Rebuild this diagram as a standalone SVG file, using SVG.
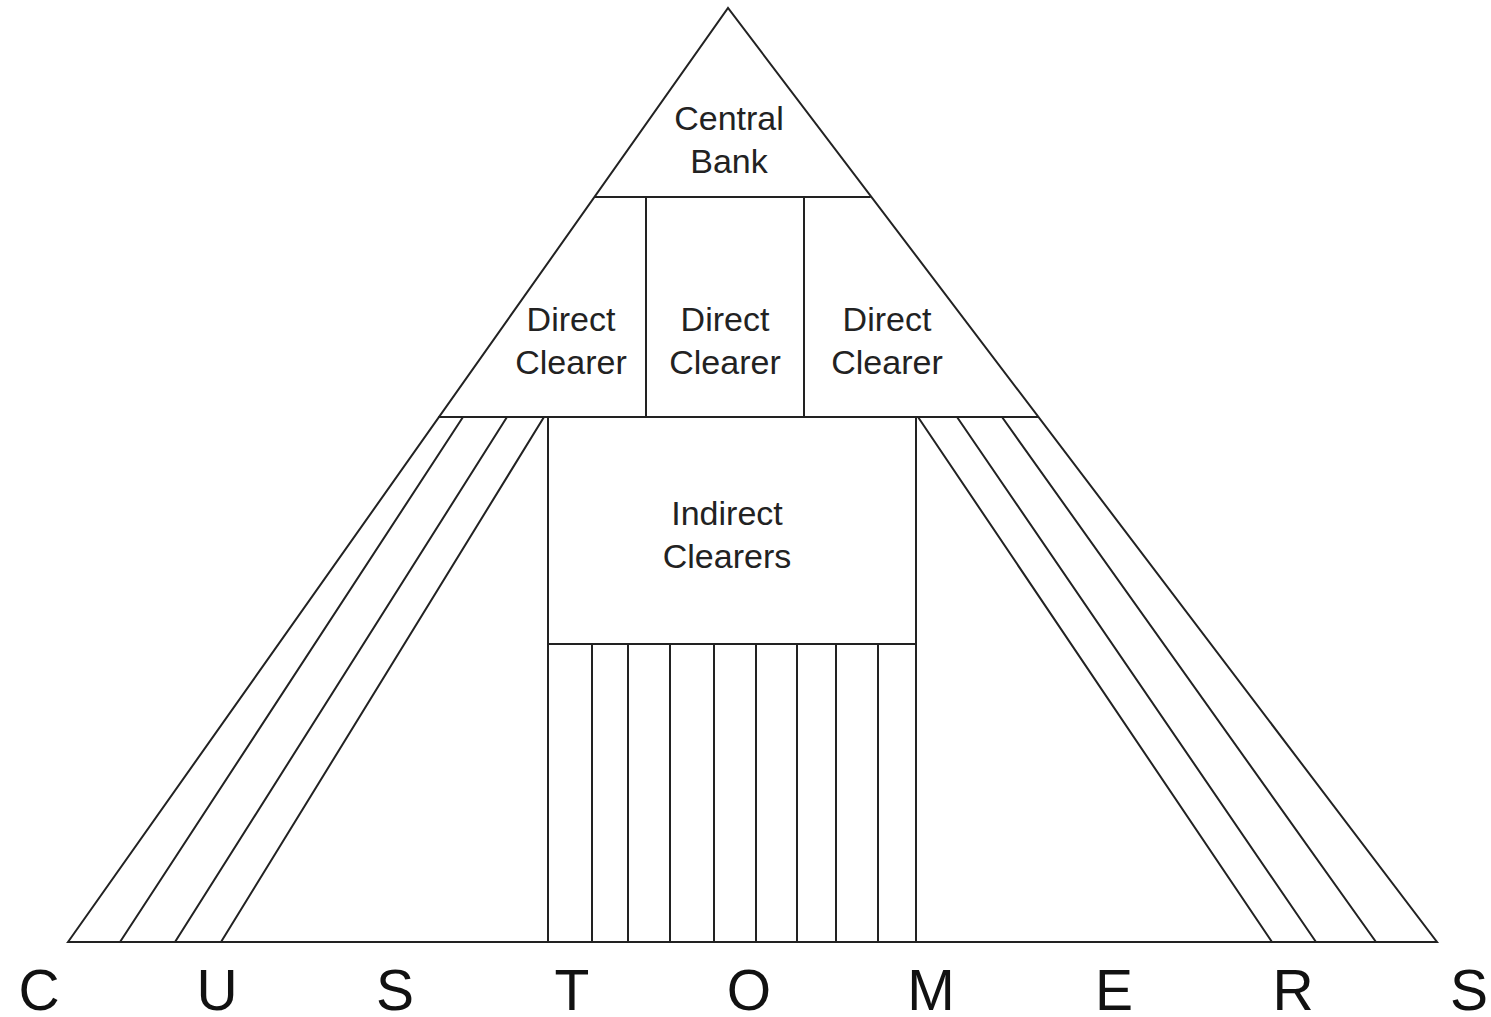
<svg xmlns="http://www.w3.org/2000/svg" width="1491" height="1017" viewBox="0 0 1491 1017">
<style>
.ln{stroke:#222;stroke-width:2;fill:none;stroke-linecap:round}
.lbl{font-family:"Liberation Sans",Arial,sans-serif;font-size:34px;fill:#222;text-anchor:middle}
.big{font-family:"Liberation Sans",Arial,sans-serif;font-size:57px;fill:#111;text-anchor:middle}
</style>
<rect width="1491" height="1017" fill="#fff"/>
<g id="connectors">
<path class="ln" d="M68,942 L728,8 L1437,942 Z"/>
<line class="ln" x1="595" y1="197" x2="870" y2="197"/>
<line class="ln" x1="439" y1="417" x2="1038" y2="417"/>
<line class="ln" x1="646" y1="197" x2="646" y2="417"/>
<line class="ln" x1="804" y1="197" x2="804" y2="417"/>
<line class="ln" x1="463" y1="417" x2="120" y2="942"/>
<line class="ln" x1="507" y1="417" x2="175" y2="942"/>
<line class="ln" x1="544" y1="417" x2="221" y2="942"/>
<line class="ln" x1="918" y1="417" x2="1272" y2="942"/>
<line class="ln" x1="957" y1="417" x2="1316" y2="942"/>
<line class="ln" x1="1002" y1="417" x2="1376" y2="942"/>
<path class="ln" d="M548,417 V942 M916,417 V942 M548,644 H916 M592,644 V942 M628,644 V942 M670,644 V942 M714,644 V942 M756,644 V942 M797,644 V942 M836,644 V942 M878,644 V942"/>
</g>
<g id="central-bank"><text class="lbl" x="729" y="130">Central</text><text class="lbl" x="729" y="173">Bank</text></g>
<g id="direct-clearer-1"><text class="lbl" x="571" y="331">Direct</text><text class="lbl" x="571" y="374">Clearer</text></g>
<g id="direct-clearer-2"><text class="lbl" x="725" y="331">Direct</text><text class="lbl" x="725" y="374">Clearer</text></g>
<g id="direct-clearer-3"><text class="lbl" x="887" y="331">Direct</text><text class="lbl" x="887" y="374">Clearer</text></g>
<g id="indirect-clearers"><text class="lbl" x="727" y="525">Indirect</text><text class="lbl" x="727" y="568">Clearers</text></g>
<g id="customers">
<text class="big" x="39" y="1010">C</text>
<text class="big" x="217" y="1010">U</text>
<text class="big" x="395" y="1010">S</text>
<text class="big" x="572" y="1010">T</text>
<text class="big" x="749" y="1010">O</text>
<text class="big" x="931" y="1010">M</text>
<text class="big" x="1114" y="1010">E</text>
<text class="big" x="1293" y="1010">R</text>
<text class="big" x="1469" y="1010">S</text>
</g>
</svg>
